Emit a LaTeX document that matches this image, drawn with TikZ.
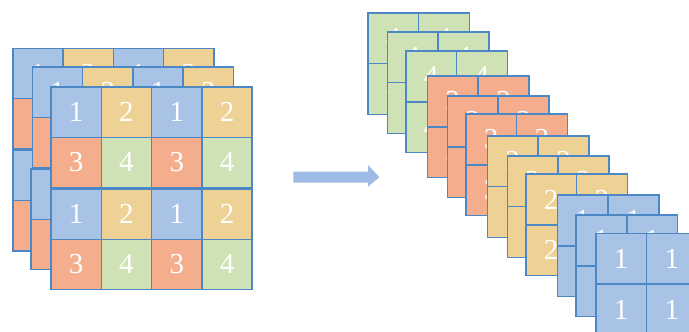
\documentclass[tikz,border=0pt]{standalone}
\usepackage{fontspec}
\setmainfont{Liberation Serif}
\definecolor{cb}{HTML}{A8C3E6}
\definecolor{co}{HTML}{F4AE8E}
\definecolor{cy}{HTML}{EED194}
\definecolor{cg}{HTML}{CEE2B6}
\definecolor{gridline}{HTML}{4C87C6}
\definecolor{arrowblue}{HTML}{9DBBE4}
% one half of a 4x4 layer: two rows of four cells
\newcommand\halfgrid[3]{%
  \foreach \c/\colA/\numA/\colB/\numB in {0/cb/1/co/3, 1/cy/2/cg/4, 2/cb/1/co/3, 3/cy/2/cg/4} {
    \node[cell, fill=\colA] (#1-a\c) at (#2+\c*50.3, #3) {\numA};
    \node[cell, fill=\colB] (#1-b\c) at (#2+\c*50.3, #3+50.3) {\numB};
  }}
% one 2x2 slice of a single colour
\newcommand\slicegrid[5]{%
  \foreach \r in {0,1} {\foreach \c in {0,1} {
    \node[slicecell, fill=#4] (#1-\r\c) at (#2+\c*50.8, #3+\r*50.8) {#5};
  }}}
\begin{document}
\begin{tikzpicture}[x=1pt, y=-1pt,
  cell/.style={draw=gridline, line width=1.6pt, minimum size=50.3pt,
    inner sep=0pt, outer sep=0pt, anchor=north west, text=white,
    font=\fontsize{29}{29}\selectfont},
  slicecell/.style={cell, minimum size=50.8pt}]
\useasboundingbox (0,0) rectangle (689,332);

% input: three stacked 4x4 layers, each built from two halves
\halfgrid{backT}{12.7}{48.3}
\halfgrid{backB}{12.7}{150.3}
\halfgrid{midT}{32.3}{67}
\halfgrid{midB}{31}{169}
\halfgrid{frontT}{51}{87}
\halfgrid{frontB}{51}{189}

% block arrow
\fill[arrowblue] (293.3,171.7) -- (368,171.7) -- (368,165) -- (379.3,177.2)
  -- (368,186.7) -- (368,182.7) -- (293.3,182.7) -- cycle;

% output: twelve 2x2 slices
\slicegrid{g1}{367.7}{12.7}{cg}{4}
\slicegrid{g2}{387.3}{31.7}{cg}{4}
\slicegrid{g3}{405.7}{51}{cg}{4}
\slicegrid{r1}{427.3}{76}{co}{3}
\slicegrid{r2}{447.3}{96}{co}{3}
\slicegrid{r3}{465.7}{114}{co}{3}
\slicegrid{y1}{487.3}{135.7}{cy}{2}
\slicegrid{y2}{507.3}{155.7}{cy}{2}
\slicegrid{y3}{525.7}{174}{cy}{2}
\slicegrid{b1}{557.3}{195}{cb}{1}
\slicegrid{b2}{576}{215}{cb}{1}
\slicegrid{b3}{595.7}{233.3}{cb}{1}
\end{tikzpicture}
\end{document}
